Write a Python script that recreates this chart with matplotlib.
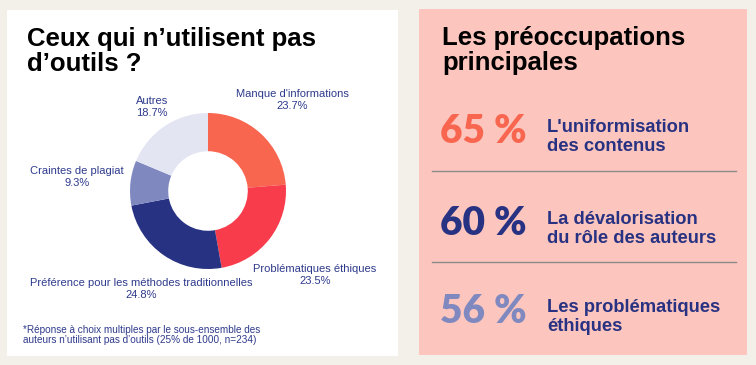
import matplotlib.pyplot as plt
from matplotlib.patches import Rectangle

# donnees du donut
categories = ["Manque d'informations", "Problématiques éthiques",
              "Préférence pour les méthodes traditionnelles",
              "Craintes de plagiat", "Autres"]
parts = [23.7, 23.5, 24.8, 9.3, 18.7]
couleurs = ["#f96650", "#f83c4c", "#283282", "#7f89c0", "#e3e5f3"]

# preoccupations principales
pourcents = [65, 60, 56]
preoccupations = ["L'uniformisation\ndes contenus",
                  "La dévalorisation\ndu rôle des auteurs",
                  "Les problématiques\néthiques"]
couleurs_pct = ["#f96650", "#283282", "#7f89c0"]

W, H = 756, 365
navy = "#2e3a8c"
plt.rcParams['font.family'] = ['Liberation Sans', 'DejaVu Sans']

fig = plt.figure(figsize=(W / 100, H / 100), dpi=100)
fig.patch.set_facecolor("#f3efe9")

def px(x, y):
    return x / W, 1 - y / H

# panneaux
fig.patches.append(Rectangle(px(7, 356), 391 / W, 346 / H, transform=fig.transFigure,
                             facecolor="white", edgecolor="none", zorder=-5))
fig.patches.append(Rectangle(px(419, 355), 328 / W, 346 / H, transform=fig.transFigure,
                             facecolor="#fcc5bd", edgecolor="none", zorder=-5))

# titres (va baseline = derniere ligne)
fig.text(*px(27, 71), "Ceux qui n\u2019utilisent pas\nd\u2019outils ?", fontsize=18.5,
         fontweight="bold", color="black", va="baseline", linespacing=1.05)
fig.text(*px(442, 70), "Les préoccupations\nprincipales", fontsize=18.5,
         fontweight="bold", color="black", va="baseline", linespacing=1.05)

# donut
R = 78
cx, cy = 208, 191
ax = fig.add_axes([(cx - R) / W, 1 - (cy + R) / H, 2 * R / W, 2 * R / H])
ax.pie(parts, colors=couleurs, startangle=90, counterclock=False, radius=1,
       wedgeprops=dict(width=0.49, edgecolor="none"))
ax.set_xlim(-1, 1)
ax.set_ylim(-1, 1)
ax.axis("off")

# etiquettes du donut
etiquettes = [(292, 100, "center"), (315, 275, "center"), (141, 289, "center"),
              (77, 177, "center"), (136, 107, "left")]
for (x, y, ha), cat, v in zip(etiquettes, categories, parts):
    fig.text(*px(x, y), f"{cat}\n{v}%", fontsize=8, color=navy, ha=ha,
             va="center", multialignment=ha, linespacing=1.3)

fig.text(*px(23, 335), "*Réponse à choix multiples par le sous-ensemble des\n"
         "auteurs n\u2019utilisant pas d\u2019outils (25% de 1000, n=234)",
         fontsize=7.2, color=navy, va="center", linespacing=1.1)

# chiffres cles
bases = [143, 235, 323]
for b, p, t, c in zip(bases, pourcents, preoccupations, couleurs_pct):
    fig.text(*px(440, b), f"{p} %", fontsize=28, fontweight="heavy",
             family=["Lato", "DejaVu Sans"], color=c, va="baseline")
    fig.text(*px(547, b + 8), t, fontsize=13.2, fontweight="bold", color="#283282",
             va="baseline", linespacing=1.15)

for y in [171, 262]:
    fig.add_artist(plt.Line2D([432 / W, 736 / W], [1 - y / H] * 2,
                              transform=fig.transFigure, color="#8c8c8c", lw=1))

fig.savefig("out.png", dpi=100, facecolor=fig.get_facecolor())
